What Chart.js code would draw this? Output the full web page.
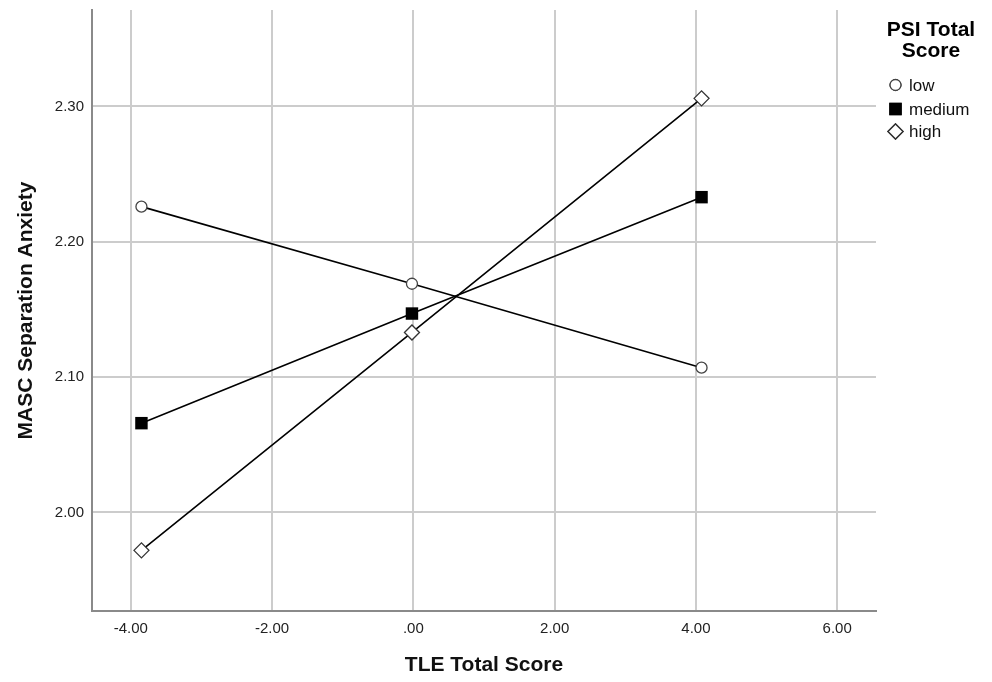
<!DOCTYPE html>
<html>
<head>
<meta charset="utf-8">
<script src="https://cdn.jsdelivr.net/npm/chart.js@4/dist/chart.umd.min.js"></script>
<style>
  html, body { margin: 0; padding: 0; background: #fff; }
</style>
</head>
<body>
<canvas id="plot" width="992" height="682"></canvas>
<script>
// values
const tleValues = [-3.85, -0.02, 4.08];
const lowValues = [2.226, 2.169, 2.107];
const mediumValues = [2.066, 2.147, 2.233];
const highValues = [1.972, 2.133, 2.306];
const groupLabels = ['low', 'medium', 'high'];
const xTicks = [-4, -2, 0, 2, 4, 6];
const yTicks = [2.0, 2.1, 2.2, 2.3];

const font = "'Liberation Sans', Arial, sans-serif";

const fmt = v => {
    let s = Number(v).toFixed(2);
    return s.replace(/^0\./, '.').replace(/^-0\./, '-.');
};

const pts = vals => vals.map((v, i) => ({ x: tleValues[i], y: v }));

// legend drawn on the right, SPSS style
const sideLegend = {
    id: 'sideLegend',
    afterDraw(chart) {
        const ctx = chart.ctx;
        ctx.save();
        ctx.fillStyle = '#000';
        ctx.textAlign = 'center';
        ctx.textBaseline = 'middle';
        ctx.font = 'bold 21px ' + font;
        ctx.fillText('PSI Total', 931, 30);
        ctx.fillText('Score', 931, 51);

        const rows = [85, 109, 131.5];
        chart.data.datasets.forEach((ds, i) => {
            Chart.helpers.drawPoint(ctx, {
                pointStyle: ds.pointStyle,
                radius: ds.pointRadius,
                borderWidth: ds.pointBorderWidth
            }, 895.5, rows[i]);
            ctx.fillStyle = ds.pointBackgroundColor;
            ctx.strokeStyle = ds.pointBorderColor;
            ctx.lineWidth = ds.pointBorderWidth;
            ctx.fill();
            if (ds.pointBorderWidth > 0) ctx.stroke();
            ctx.fillStyle = '#111';
            ctx.textAlign = 'left';
            ctx.font = '17px ' + font;
            ctx.fillText(ds.label, 909, rows[i] + 1);
        });
        ctx.restore();
    }
};

const ctx = document.querySelector('#plot').getContext('2d');
new Chart(ctx, {
    type: 'line',
    data: {
        datasets: [
            {
                label: groupLabels[0],
                data: pts(lowValues),
                borderColor: '#000',
                borderWidth: 1.6,
                pointStyle: 'circle',
                pointRadius: 5.5,
                pointBackgroundColor: '#fff',
                pointBorderColor: '#444',
                pointBorderWidth: 1.3
            },
            {
                label: groupLabels[1],
                data: pts(mediumValues),
                borderColor: '#000',
                borderWidth: 1.6,
                pointStyle: 'rect',
                pointRadius: 8.8,
                pointBackgroundColor: '#000',
                pointBorderColor: '#000',
                pointBorderWidth: 0
            },
            {
                label: groupLabels[2],
                data: pts(highValues),
                borderColor: '#000',
                borderWidth: 1.6,
                pointStyle: 'rectRot',
                pointRadius: 7.5,
                pointBackgroundColor: '#fff',
                pointBorderColor: '#333',
                pointBorderWidth: 1.3
            }
        ]
    },
    options: {
        responsive: false,
        animation: false,
        layout: { autoPadding: false, padding: { top: 10, right: 116, left: 0, bottom: 0 } },
        plugins: {
            legend: { display: false },
            tooltip: { enabled: false }
        },
        scales: {
            x: {
                type: 'linear',
                min: -4.55,
                max: 6.55,
                afterFit: s => { s.height = 71; s.paddingLeft = 0; s.paddingRight = 0; },
                afterBuildTicks: s => { s.ticks = xTicks.map(v => ({ value: v })); },
                grid: { color: '#cccccc', lineWidth: 2, drawTicks: false },
                border: { color: '#8a8a8a', width: 2 },
                ticks: {
                    padding: 9,
                    color: '#222',
                    font: { family: font, size: 15 },
                    callback: v => fmt(v)
                },
                title: {
                    display: true,
                    text: 'TLE Total Score',
                    color: '#111',
                    font: { family: font, size: 21, weight: 'bold' },
                    padding: { top: 0, bottom: 4 }
                }
            },
            y: {
                type: 'linear',
                min: 1.9272,
                max: 2.3713,
                afterFit: s => { s.width = 92; s.paddingTop = 0; s.paddingBottom = 0; },
                afterBuildTicks: s => { s.ticks = yTicks.map(v => ({ value: v })); },
                grid: { color: '#cccccc', lineWidth: 2, drawTicks: false },
                border: { color: '#8a8a8a', width: 2 },
                ticks: {
                    padding: 8,
                    color: '#222',
                    font: { family: font, size: 15 },
                    callback: v => fmt(v)
                },
                title: {
                    display: true,
                    text: 'MASC Separation Anxiety',
                    color: '#111',
                    font: { family: font, size: 21, weight: 'bold' },
                    padding: { top: 14, bottom: 0 }
                }
            }
        }
    },
    plugins: [sideLegend]
});
</script>
</body>
</html>
